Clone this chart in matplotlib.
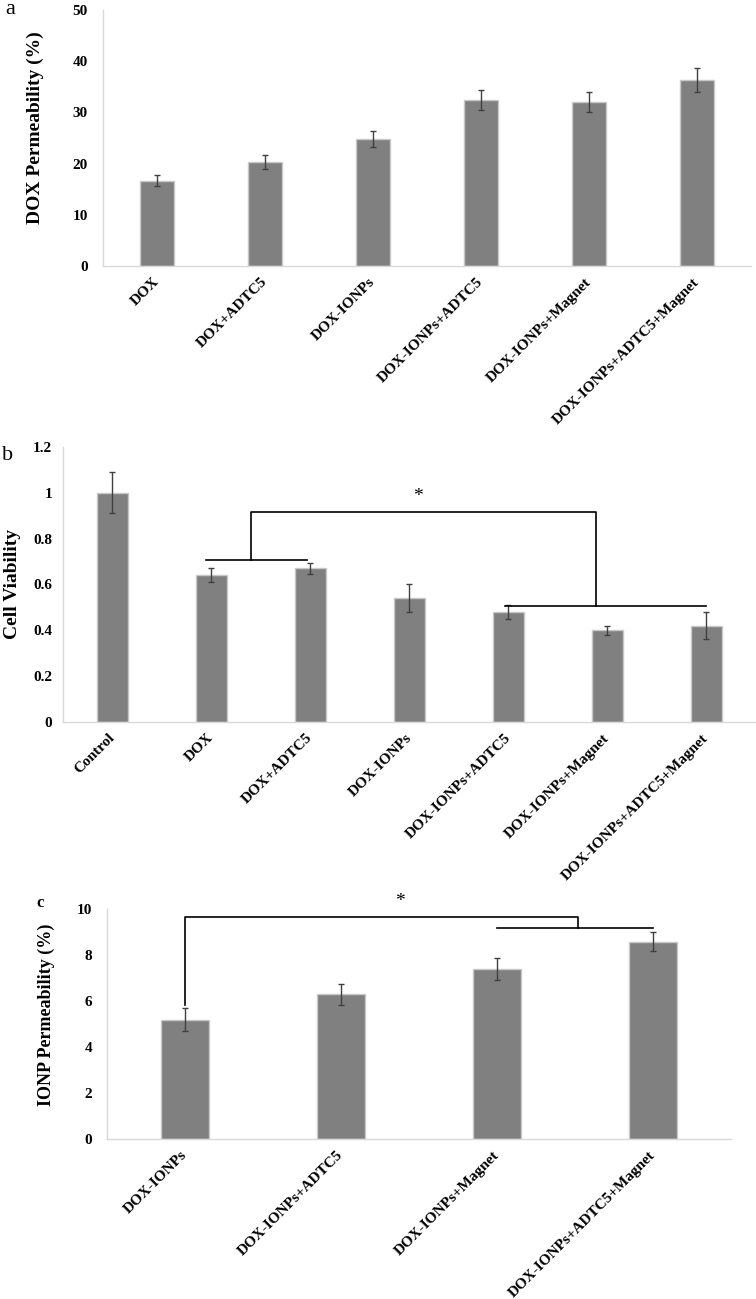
import numpy as np
import matplotlib
matplotlib.use("Agg")
import matplotlib.pyplot as plt

plt.rcParams['font.family'] = ['Liberation Serif', 'DejaVu Serif']

# data
a_labels = ['DOX', 'DOX+ADTC5', 'DOX-IONPs', 'DOX-IONPs+ADTC5',
            'DOX-IONPs+Magnet', 'DOX-IONPs+ADTC5+Magnet']
a_vals = [16.7, 20.3, 24.8, 32.4, 32.0, 36.3]
a_err = [1.1, 1.3, 1.5, 2.0, 1.9, 2.3]

b_labels = ['Control', 'DOX', 'DOX+ADTC5', 'DOX-IONPs', 'DOX-IONPs+ADTC5',
            'DOX-IONPs+Magnet', 'DOX-IONPs+ADTC5+Magnet']
b_vals = [1.0, 0.64, 0.67, 0.54, 0.48, 0.40, 0.42]
b_err = [0.09, 0.03, 0.025, 0.06, 0.03, 0.02, 0.06]

c_labels = ['DOX-IONPs', 'DOX-IONPs+ADTC5', 'DOX-IONPs+Magnet',
            'DOX-IONPs+ADTC5+Magnet']
c_vals = [5.2, 6.3, 7.4, 8.6]
c_err = [0.5, 0.45, 0.48, 0.41]

BAR = '#808080'
EDGE = '#c8c8c8'
SPINE = '#d9d9d9'

fig = plt.figure(figsize=(7.56, 12.99), dpi=100)


def panel(rect, labels, vals, err, ylim, yticks, ylabel, lab_xy, ypad):
    ax = fig.add_axes(rect)
    x = np.arange(len(labels))
    ax.bar(x, vals, width=0.31, color=BAR, edgecolor=EDGE, linewidth=1, zorder=2)
    ax.errorbar(x, vals, yerr=err, fmt='none', ecolor='#404040',
                elinewidth=1, capsize=2, capthick=1, zorder=3)
    ax.set_xlim(-0.5, len(labels) - 0.5)
    ax.set_ylim(*ylim)
    ax.set_yticks(yticks)
    ax.set_yticklabels(['%g' % t for t in yticks], fontsize=11, fontweight='bold')
    ax.set_xticks(x)
    ax.set_xticklabels(labels, rotation=45, ha='right', va='center',
                       rotation_mode='anchor', fontsize=11, fontweight='bold')
    ax.tick_params(axis='y', length=0, pad=ypad)
    ax.tick_params(axis='x', length=0, pad=10)
    for s in ['top', 'right']:
        ax.spines[s].set_visible(False)
    for s in ['left', 'bottom']:
        ax.spines[s].set_color(SPINE)
        ax.spines[s].set_linewidth(1)
    ax.set_ylabel(ylabel[0], fontsize=ylabel[1], fontweight='bold')
    ax.yaxis.set_label_coords(*lab_xy)
    return ax


ax_a = panel([0.1362, 0.7952, 0.857, 0.1971], a_labels, a_vals, a_err,
             (0, 50), [0, 10, 20, 30, 40, 50], ('DOX Permeability (%)', 14),
             (-0.091, 0.54), 10.8)

ax_b = panel([0.0833, 0.4442, 0.9167, 0.2117], b_labels, b_vals, b_err,
             (0, 1.2), [0, 0.2, 0.4, 0.6, 0.8, 1.0, 1.2], ('Cell Viability', 14),
             (-0.061, 0.5), 7.9)

ax_c = panel([0.1415, 0.1229, 0.8254, 0.1771], c_labels, c_vals, c_err,
             (0, 10), [0, 2, 4, 6, 8, 10], ('IONP Permeability (%)', 13),
             (-0.083, 0.54), 10.8)

# significance brackets, panel b
lk = dict(color='black', lw=1.2, clip_on=False, zorder=4)
ax_b.plot([0.94, 1.96], [0.707, 0.707], **lk)
ax_b.plot([1.40, 1.40, 4.88, 4.88], [0.707, 0.917, 0.917, 0.508], **lk)
ax_b.plot([3.96, 5.99], [0.508, 0.508], **lk)
ax_b.text(3.09, 0.985, '*', ha='center', va='center', fontsize=14)

# significance brackets, panel c
ax_c.plot([0, 0, 2.52, 2.52], [5.84, 9.68, 9.68, 9.17], **lk)
ax_c.plot([2.0, 3.0], [9.17, 9.17], **lk)
ax_c.text(1.38, 10.35, '*', ha='center', va='center', fontsize=14, clip_on=False)

# panel letters
fig.text(5 / 756, 1 - 9 / 1299, 'a', fontsize=16, va='center', ha='left')
fig.text(2 / 756, 1 - 456 / 1299, 'b', fontsize=16, va='center', ha='left')
fig.text(36 / 756, 1 - 903 / 1299, 'c', fontsize=12, fontweight='bold',
         va='center', ha='left')

fig.savefig('out.png', dpi=100)
